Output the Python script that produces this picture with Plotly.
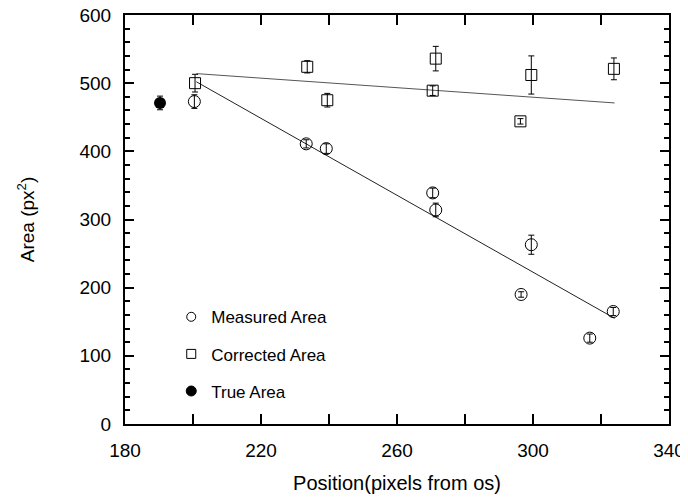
import plotly.graph_objects as go

# Measured area (open circles)
meas_x = [200.4, 233.3, 239.2, 270.5, 271.4, 296.5, 299.5, 316.7, 323.6]
meas_y = [473, 411, 404, 339, 314, 190, 263, 126, 165]
meas_err = [10, 6, 7, 7, 10, 4, 14, 6, 6]

# Corrected area (open squares)
corr_x = [200.6, 233.6, 239.5, 270.5, 271.4, 296.3, 299.5, 323.8]
corr_y = [500, 524, 475, 489, 536, 444, 512, 521]
corr_err = [13, 9, 10, 7, 18, 4, 28, 16]

# True area (filled circle)
true_x = [190.3]
true_y = [471]
true_err = [10]

# Fitted lines (end points)
fit_x = [201, 324]
fit_meas_y = [502, 155]
fit_corr_y = [514, 471]

x_ticks = [180, 220, 260, 300, 340]
y_ticks = [0, 100, 200, 300, 400, 500, 600]

series_names = ["Measured Area", "Corrected Area", "True Area"]

FONT = "Liberation Sans, Arial, Helvetica, sans-serif"

fig = go.Figure()

fig.add_trace(go.Scatter(
    x=fit_x, y=fit_meas_y, mode="lines",
    line=dict(color="#222222", width=1), showlegend=False, hoverinfo="skip"))
fig.add_trace(go.Scatter(
    x=fit_x, y=fit_corr_y, mode="lines",
    line=dict(color="#555555", width=1), showlegend=False, hoverinfo="skip"))

fig.add_trace(go.Scatter(
    x=meas_x, y=meas_y, mode="markers", name=series_names[0], showlegend=False,
    marker=dict(symbol="circle-open", size=12, color="black", line=dict(width=1, color="black")),
    error_y=dict(type="data", array=meas_err, color="black", thickness=1, width=3)))
fig.add_trace(go.Scatter(
    x=corr_x, y=corr_y, mode="markers", name=series_names[1], showlegend=False,
    marker=dict(symbol="square-open", size=11, color="black", line=dict(width=1, color="black")),
    error_y=dict(type="data", array=corr_err, color="black", thickness=1, width=3)))
fig.add_trace(go.Scatter(
    x=true_x, y=true_y, mode="markers", name=series_names[2], showlegend=False,
    marker=dict(symbol="circle", size=12, color="black"),
    error_y=dict(type="data", array=true_err, color="black", thickness=1, width=3)))

# legend-only entries (smaller symbols, as in the reference key)
legend_symbols = ["circle-open", "square-open", "circle"]
for i, (nm, sym) in enumerate(zip(series_names, legend_symbols)):
    fig.add_trace(go.Scatter(
        x=[None], y=[None], mode="markers", name=nm, legendgroup=f"g{i}",
        marker=dict(symbol=sym, size=9 if sym != "circle" else 10, color="black",
                    line=dict(width=1, color="black"))))

axis_common = dict(
    showgrid=False, zeroline=False, showline=True, linecolor="black", linewidth=2,
    mirror="allticks", ticks="inside", tickcolor="black", automargin=False,
    ticklabeloverflow="allow",
    tickfont=dict(family=FONT, size=19, color="black"),
)

fig.update_xaxes(
    range=[180, 340], tickvals=x_ticks, ticklen=10, tickwidth=2, ticklabelstandoff=8,
    minor=dict(dtick=20, tick0=180, ticks="inside", ticklen=10, tickwidth=2, tickcolor="black"),
    title=dict(text="Position(pixels from os)", font=dict(family=FONT, size=20, color="black"), standoff=16),
    **axis_common)
fig.update_yaxes(
    range=[0, 600], tickvals=y_ticks, ticklen=9, tickwidth=2, ticklabelstandoff=8,
    minor=dict(dtick=20, tick0=0, ticks="inside", ticklen=5, tickwidth=1.5, tickcolor="black"),
    title=dict(text="Area (px<sup>2</sup>)", font=dict(family=FONT, size=19, color="black"), standoff=40),
    **axis_common)

# the page body adds an 8px offset, so margins are shifted to compensate
fig.update_layout(
    width=688, height=501,
    margin=dict(l=117, r=27, t=7, b=85),
    paper_bgcolor="white", plot_bgcolor="white",
    font=dict(family=FONT, color="black"),
    legend=dict(
        x=0.085, y=0.305, xanchor="left", yanchor="top",
        font=dict(family=FONT, size=17, color="black"),
        bgcolor="rgba(0,0,0,0)", tracegroupgap=12, itemwidth=30,
    ),
)

fig.write_html("out.html")
